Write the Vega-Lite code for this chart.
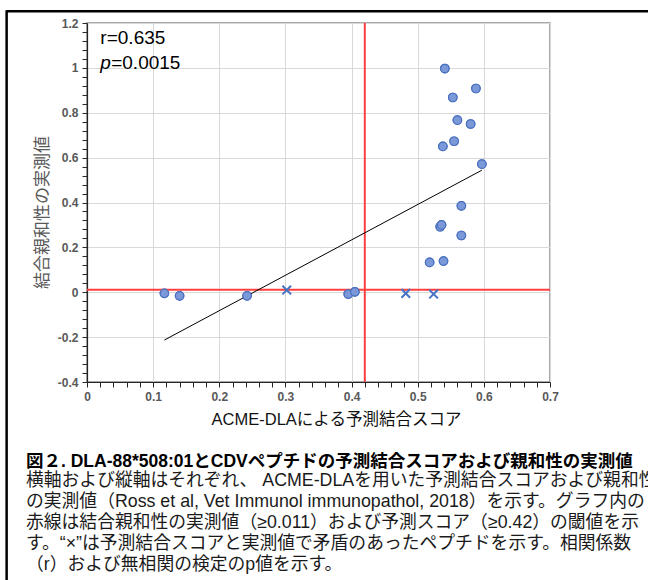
{
  "$schema": "https://vega.github.io/schema/vega-lite/v6.json",
  "autosize": {"type": "none"},
  "width": 463,
  "height": 359,
  "padding": {"left": 87, "top": 23, "right": 98, "bottom": 198},
  "background": "white",
  "config": {
    "view": {"stroke": "#8c8c8c", "strokeWidth": 1.5},
    "axis": {
      "domainColor": "#262626",
      "domainWidth": 1.2,
      "tickColor": "#262626",
      "tickSize": 5,
      "gridColor": "#d9d9d9",
      "gridWidth": 1,
      "labelFont": "Liberation Sans",
      "labelFontSize": 12,
      "labelFontWeight": "bold",
      "labelColor": "#595959",
      "labelOverlap": false,
      "labelFlush": false,
      "labelBound": false
    }
  },
  "title": {
    "text": "図２. DLA-88*508:01とCDVペプチドの予測結合スコアおよび親和性の実測値",
    "subtitle": [
      "横軸および縦軸はそれぞれ、 ACME-DLAを用いた予測結合スコアおよび親和性",
      "の実測値（Ross et al, Vet Immunol immunopathol, 2018）を示す。グラフ内の",
      "赤線は結合親和性の実測値（≥0.011）および予測スコア（≥0.42）の閾値を示",
      "す。“×”は予測結合スコアと実測値で矛盾のあったペプチドを示す。相関係数",
      "（r）および無相関の検定のp値を示す。"
    ],
    "orient": "bottom",
    "anchor": "start",
    "frame": "group",
    "dx": -61,
    "offset": -129,
    "font": "Liberation Sans, Noto Sans CJK JP",
    "fontSize": 17.5,
    "fontWeight": "bold",
    "color": "#000000",
    "subtitleFont": "Liberation Sans, Noto Sans CJK JP",
    "subtitleFontSize": 17.8,
    "subtitleFontWeight": "normal",
    "subtitleColor": "#1a1a1a",
    "subtitleLineHeight": 21.2,
    "subtitlePadding": 1
  },
  "data": {
    "values": [
      {"score": 0.541, "affinity": 0.997, "kind": "consistent"},
      {"score": 0.588, "affinity": 0.908, "kind": "consistent"},
      {"score": 0.553, "affinity": 0.868, "kind": "consistent"},
      {"score": 0.560, "affinity": 0.767, "kind": "consistent"},
      {"score": 0.580, "affinity": 0.750, "kind": "consistent"},
      {"score": 0.555, "affinity": 0.673, "kind": "consistent"},
      {"score": 0.538, "affinity": 0.650, "kind": "consistent"},
      {"score": 0.597, "affinity": 0.571, "kind": "consistent"},
      {"score": 0.566, "affinity": 0.385, "kind": "consistent"},
      {"score": 0.534, "affinity": 0.292, "kind": "consistent"},
      {"score": 0.536, "affinity": 0.300, "kind": "consistent"},
      {"score": 0.566, "affinity": 0.253, "kind": "consistent"},
      {"score": 0.518, "affinity": 0.133, "kind": "consistent"},
      {"score": 0.539, "affinity": 0.139, "kind": "consistent"},
      {"score": 0.117, "affinity": -0.005, "kind": "consistent"},
      {"score": 0.140, "affinity": -0.016, "kind": "consistent"},
      {"score": 0.242, "affinity": -0.016, "kind": "consistent"},
      {"score": 0.395, "affinity": -0.008, "kind": "consistent"},
      {"score": 0.405, "affinity": 0.002, "kind": "consistent"},
      {"score": 0.302, "affinity": 0.010, "kind": "conflict"},
      {"score": 0.482, "affinity": -0.005, "kind": "conflict"},
      {"score": 0.524, "affinity": -0.008, "kind": "conflict"}
    ]
  },
  "layer": [
    {
      "transform": [{"filter": "datum.kind === 'consistent'"}],
      "mark": {"type": "point", "shape": "circle", "filled": true, "size": 72, "fill": "#7b99d8", "stroke": "#4a70c0", "strokeWidth": 1.2, "opacity": 1},
      "encoding": {
        "x": {
          "field": "score", "type": "quantitative",
          "scale": {"domain": [0, 0.7], "nice": false, "zero": false},
          "axis": {
            "title": "ACME-DLAによる予測結合スコア",
            "titleFont": "Liberation Sans, Noto Sans CJK JP",
            "titleFontSize": 16.5,
            "titleFontWeight": "normal",
            "titleColor": "#111111",
            "titleX": 249,
            "titlePadding": 9,
            "grid": true,
            "tickCount": 200,
            "labelOverlap": false,
            "labelFlush": false,
            "values": [0,0.02,0.04,0.06,0.08,0.1,0.12,0.14,0.16,0.18,0.2,0.22,0.24,0.26,0.28,0.3,0.32,0.34,0.36,0.38,0.4,0.42,0.44,0.46,0.48,0.5,0.52,0.54,0.56,0.58,0.6,0.62,0.64,0.66,0.68,0.7],
            "labelExpr": "abs(datum.value*10 - round(datum.value*10)) < 0.001 ? toString(round(datum.value*10)/10) : ''",
            "labelPadding": 4,
            "gridOpacity": {"condition": {"test": "abs(datum.value*10 - round(datum.value*10)) < 0.001", "value": 1}, "value": 0}
          }
        },
        "y": {
          "field": "affinity", "type": "quantitative",
          "scale": {"domain": [-0.4, 1.2], "nice": false, "zero": false},
          "axis": {
            "title": "結合親和性の実測値",
            "titleFont": "Noto Sans CJK JP",
            "titleFontSize": 17,
            "titleFontWeight": "normal",
            "titleColor": "#595959",
            "titleY": 189,
            "titlePadding": 6,
            "grid": true,
            "tickCount": 200,
            "labelOverlap": false,
            "values": [-0.4,-0.36,-0.32,-0.28,-0.24,-0.2,-0.16,-0.12,-0.08,-0.04,0,0.04,0.08,0.12,0.16,0.2,0.24,0.28,0.32,0.36,0.4,0.44,0.48,0.52,0.56,0.6,0.64,0.68,0.72,0.76,0.8,0.84,0.88,0.92,0.96,1,1.04,1.08,1.12,1.16,1.2],
            "labelExpr": "abs(datum.value*5 - round(datum.value*5)) < 0.001 ? toString(round(datum.value*5)/5) : ''",
            "labelPadding": 4,
            "gridOpacity": {"condition": {"test": "abs(datum.value*5 - round(datum.value*5)) < 0.001", "value": 1}, "value": 0}
          }
        }
      }
    },
    {
      "data": {"values": [{}]},
      "mark": {"type": "rule", "color": "#000000", "strokeWidth": 2.5, "clip": false},
      "encoding": {
        "x": {"datum": -0.1215, "type": "quantitative"},
        "x2": {"datum": 0.9},
        "y": {"datum": 1.252, "type": "quantitative"}
      }
    },
    {
      "data": {"values": [{}]},
      "mark": {"type": "rule", "color": "#000000", "strokeWidth": 2.5, "clip": false},
      "encoding": {
        "x": {"datum": -0.1215, "type": "quantitative"},
        "y": {"datum": 1.257, "type": "quantitative"},
        "y2": {"datum": -1.286}
      }
    },
    {
      "data": {"values": [{}]},
      "mark": {"type": "rule", "color": "#ff3f3f", "strokeWidth": 2},
      "encoding": {
        "x": {"datum": 0.42, "type": "quantitative"}
      }
    },
    {
      "data": {"values": [{}]},
      "mark": {"type": "rule", "color": "#ff3f3f", "strokeWidth": 2},
      "encoding": {
        "y": {"datum": 0.011, "type": "quantitative"}
      }
    },
    {
      "data": {"values": [{"score": 0.117, "fit": -0.213}, {"score": 0.597, "fit": 0.544}]},
      "mark": {"type": "line", "color": "#000000", "strokeWidth": 1},
      "encoding": {
        "x": {"field": "score", "type": "quantitative"},
        "y": {"field": "fit", "type": "quantitative"}
      }
    },
    {
      "transform": [{"filter": "datum.kind === 'consistent'"}],
      "mark": {"type": "point", "shape": "circle", "filled": true, "size": 72, "fill": "#7b99d8", "stroke": "#4a70c0", "strokeWidth": 1.2, "opacity": 1},
      "encoding": {
        "x": {"field": "score", "type": "quantitative"},
        "y": {"field": "affinity", "type": "quantitative"}
      }
    },
    {
      "transform": [{"filter": "datum.kind === 'conflict'"}],
      "mark": {"type": "point", "shape": "M-1,-1L1,1M-1,1L1,-1", "filled": false, "size": 75, "stroke": "#4472c4", "strokeWidth": 2, "opacity": 1},
      "encoding": {
        "x": {"field": "score", "type": "quantitative"},
        "y": {"field": "affinity", "type": "quantitative"}
      }
    },
    {
      "data": {"values": [{}]},
      "mark": {"type": "text", "align": "left", "baseline": "middle", "font": "Liberation Sans", "fontSize": 19, "color": "#000000"},
      "encoding": {
        "x": {"datum": 0.0202, "type": "quantitative"},
        "y": {"datum": 1.132, "type": "quantitative"},
        "text": {"value": "r=0.635"}
      }
    },
    {
      "data": {"values": [{}]},
      "mark": {"type": "text", "align": "left", "baseline": "middle", "font": "Liberation Sans", "fontSize": 19, "fontStyle": "italic", "color": "#000000"},
      "encoding": {
        "x": {"datum": 0.0202, "type": "quantitative"},
        "y": {"datum": 1.02, "type": "quantitative"},
        "text": {"value": "p"}
      }
    },
    {
      "data": {"values": [{}]},
      "mark": {"type": "text", "align": "left", "baseline": "middle", "font": "Liberation Sans", "fontSize": 19, "color": "#000000"},
      "encoding": {
        "x": {"datum": 0.0366, "type": "quantitative"},
        "y": {"datum": 1.02, "type": "quantitative"},
        "text": {"value": "=0.0015"}
      }
    }
  ]
}
